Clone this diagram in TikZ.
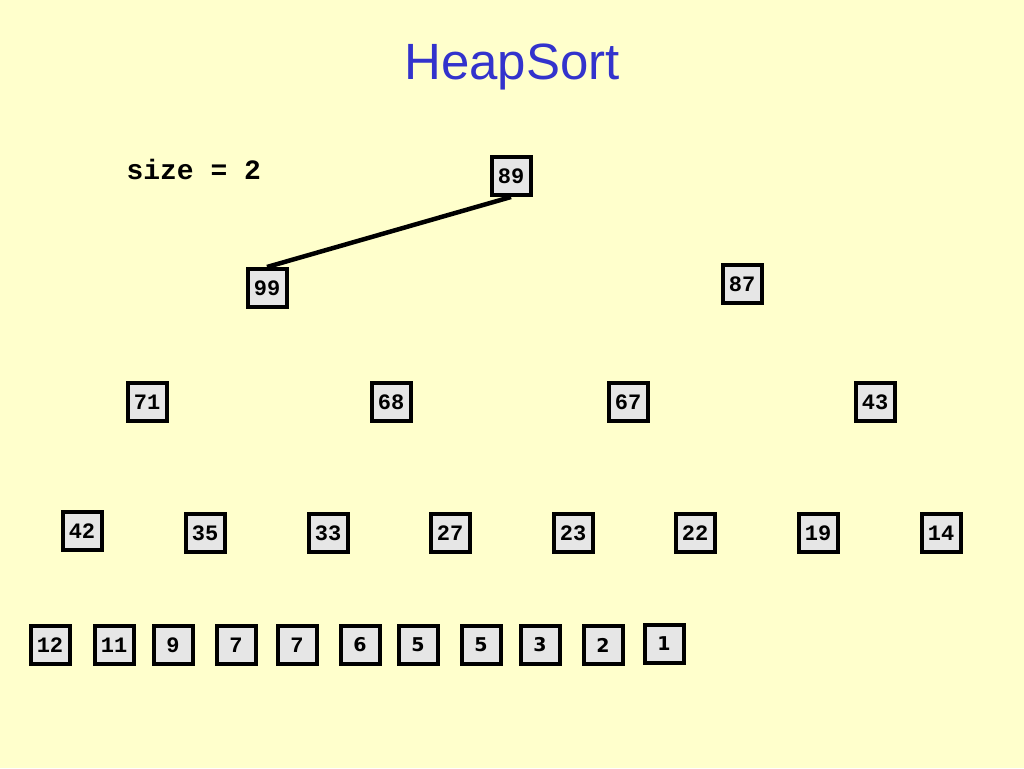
\documentclass[tikz,border=0pt]{standalone}
\usepackage{fontspec}
\newfontfamily\titlefont{Liberation Sans}
\newfontfamily\keyfont{Liberation Mono}
\newfontfamily\smallkeyfont{DejaVu Sans}
\definecolor{slidebg}{HTML}{FFFFCC}
\definecolor{keyfill}{HTML}{E6E6E6}
\definecolor{titleblue}{HTML}{3333CC}
\begin{document}
\begin{tikzpicture}[x=1pt,y=-1pt,
    key/.style={draw=black,line width=4pt,fill=keyfill,minimum width=39pt,minimum height=38pt,
      inner sep=0pt,font=\keyfont\bfseries\fontsize{22}{22}\selectfont},
    skey/.style={key,font=\smallkeyfont\bfseries\fontsize{19}{19}\selectfont}]
    % background
    \fill[slidebg] (0,0) rectangle (1024,768);
    \useasboundingbox (0,0) rectangle (1024,768);
    \node[titleblue,font=\titlefont\fontsize{51}{51}\selectfont] (title) at (512,67) {HeapSort};
    \node[anchor=west,font=\keyfont\bfseries\fontsize{28}{28}\selectfont] (size) at (123,169) {size = 2};
    % heap levels
    \node[key] (a1) at (511,176) {89};
    \node[key] (b1) at (267,288) {99};
    \node[key] (b2) at (742,284) {87};
    \node[key] (c1) at (147,402) {71};
    \node[key] (c2) at (391,402) {68};
    \node[key] (c3) at (628,402) {67};
    \node[key] (c4) at (875,402) {43};
    \node[key] (d1) at (82,531) {42};
    \node[key] (d2) at (205,533) {35};
    \node[key] (d3) at (328,533) {33};
    \node[key] (d4) at (450,533) {27};
    \node[key] (d5) at (573,533) {23};
    \node[key] (d6) at (695,533) {22};
    \node[key] (d7) at (818,533) {19};
    \node[key] (d8) at (941,533) {14};
    % sorted part
    \node[key] (e1) at (50,645) {12};
    \node[key] (e2) at (114,645) {11};
    \node[key] (e3) at (173,645) {9};
    \node[key] (e4) at (236,645) {7};
    \node[key] (e5) at (297,645) {7};
    \node[skey] (e6) at (360,645) {6};
    \node[skey] (e7) at (418,645) {5};
    \node[skey] (e8) at (481,645) {5};
    \node[skey] (e9) at (540,645) {3};
    \node[skey] (e10) at (603,645) {2};
    \node[skey] (e11) at (664,644) {1};
    % edge
    \draw[line width=4.5pt] (a1.south) -- (b1.north);
\end{tikzpicture}
\end{document}
